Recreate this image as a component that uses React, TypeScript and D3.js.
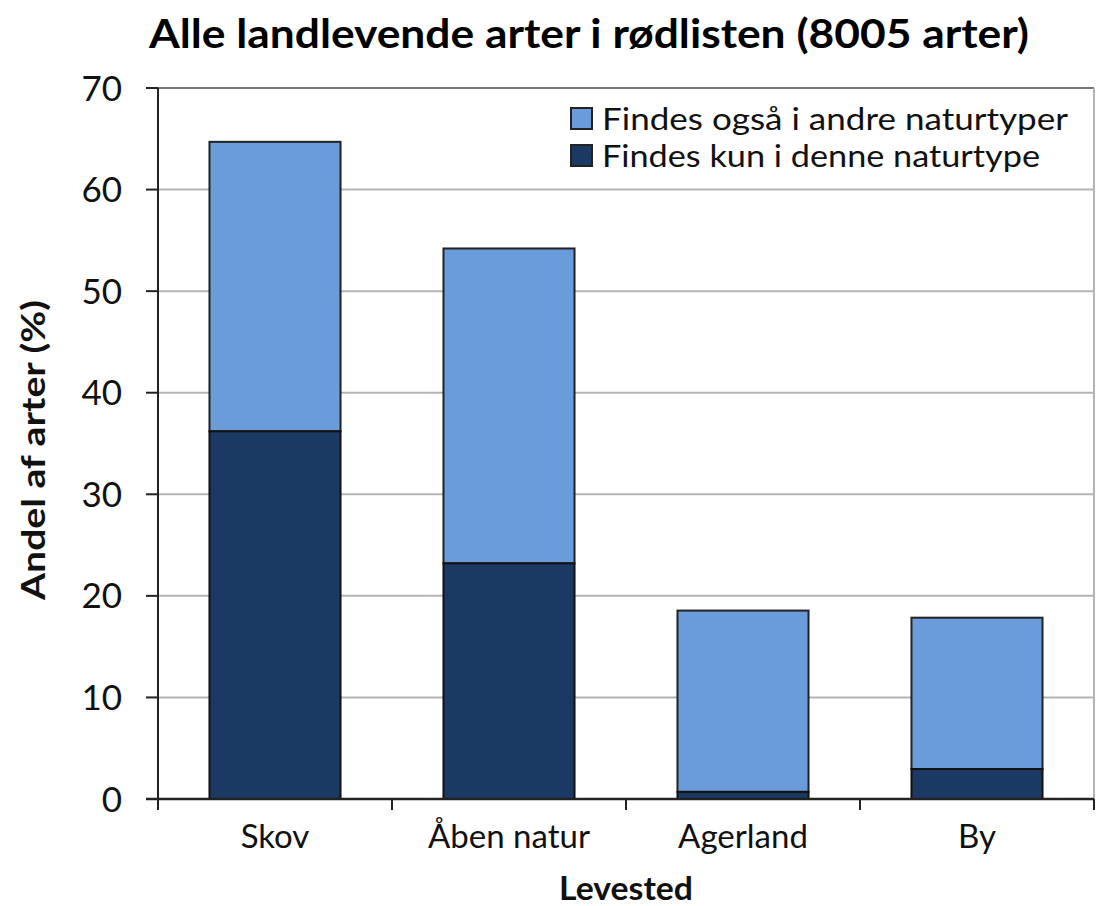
import React, { useEffect, useRef } from "react";
import * as d3 from "d3";

const categories = ["Skov", "Åben natur", "Agerland", "By"];
const onlyHere = [36.2, 23.2, 0.7, 2.95];
const alsoOther = [28.5, 31.0, 17.85, 14.9];
const yTicks = [0, 10, 20, 30, 40, 50, 60, 70];
const seriesNames = ["Findes også i andre naturtyper", "Findes kun i denne naturtype"];
const legendWidths = [466, 438];
const colors = { light: "#6a9bdb", dark: "#1b3a63" };

const W = 1096;
const H = 906;
const m = { left: 158, right: 2, top: 88, bottom: 107 };

export default function App() {
  const ref = useRef<SVGSVGElement>(null);

  useEffect(() => {
    const svg = d3.select(ref.current);
    svg.selectAll("*").remove();
    const font = "Lato, 'Open Sans', sans-serif";

    const x = d3
      .scaleBand()
      .domain(categories)
      .range([m.left, W - m.right])
      .paddingInner(0.44)
      .paddingOuter(0.22);
    const y = d3.scaleLinear().domain([0, 70]).range([H - m.bottom, m.top]);

    // grid
    svg
      .append("g")
      .selectAll("line")
      .data(yTicks.filter((t) => t > 0))
      .enter()
      .append("line")
      .attr("x1", m.left)
      .attr("x2", W - m.right)
      .attr("y1", (d) => y(d))
      .attr("y2", (d) => y(d))
      .attr("stroke", (d) => (d === 70 ? "#777" : "#b4b4b4"))
      .attr("stroke-width", 2);

    svg
      .append("line")
      .attr("x1", W - m.right)
      .attr("x2", W - m.right)
      .attr("y1", y(70))
      .attr("y2", y(0))
      .attr("stroke", "#b4b4b4")
      .attr("stroke-width", 2);

    // bars
    const g = svg.append("g");
    categories.forEach((c, i) => {
      const bx = x(c)!;
      g.append("rect")
        .attr("x", bx)
        .attr("width", x.bandwidth())
        .attr("y", y(onlyHere[i] + alsoOther[i]))
        .attr("height", y(onlyHere[i]) - y(onlyHere[i] + alsoOther[i]))
        .attr("fill", colors.light)
        .attr("stroke", "#222")
        .attr("stroke-width", 2);
      g.append("rect")
        .attr("x", bx)
        .attr("width", x.bandwidth())
        .attr("y", y(onlyHere[i]))
        .attr("height", y(0) - y(onlyHere[i]))
        .attr("fill", colors.dark)
        .attr("stroke", "#111")
        .attr("stroke-width", 2);
    });

    // y axis
    const yAxis = svg.append("g");
    yAxis
      .append("line")
      .attr("x1", m.left)
      .attr("x2", m.left)
      .attr("y1", y(70))
      .attr("y2", y(0) + 10)
      .attr("stroke", "#222")
      .attr("stroke-width", 2);
    yTicks.forEach((t) => {
      yAxis
        .append("line")
        .attr("x1", m.left - 12)
        .attr("x2", m.left)
        .attr("y1", y(t))
        .attr("y2", y(t))
        .attr("stroke", "#222")
        .attr("stroke-width", 2);
      yAxis
        .append("text")
        .attr("x", 122)
        .attr("y", y(t))
        .attr("dy", "0.36em")
        .attr("text-anchor", "end")
        .attr("font-family", font)
        .attr("font-size", 35)
        .attr("fill", "#111")
        .text(t);
    });

    // x axis
    const xAxis = svg.append("g");
    xAxis
      .append("line")
      .attr("x1", m.left - 12)
      .attr("x2", W - m.right)
      .attr("y1", y(0))
      .attr("y2", y(0))
      .attr("stroke", "#222")
      .attr("stroke-width", 2.5);
    const step = x.step();
    const edges = categories.map((c) => x(c)! - x.paddingInner() * step / 2).concat([W - m.right]);
    edges.forEach((e) => {
      xAxis
        .append("line")
        .attr("x1", e)
        .attr("x2", e)
        .attr("y1", y(0))
        .attr("y2", y(0) + 11)
        .attr("stroke", "#222")
        .attr("stroke-width", 2);
    });
    categories.forEach((c) => {
      xAxis
        .append("text")
        .attr("x", x(c)! + x.bandwidth() / 2)
        .attr("y", 848)
        .attr("text-anchor", "middle")
        .attr("font-family", font)
        .attr("font-size", 33)
        .attr("fill", "#111")
        .text(c);
    });

    // titles
    svg
      .append("text")
      .attr("x", 589)
      .attr("y", 48)
      .attr("text-anchor", "middle")
      .attr("font-family", font)
      .attr("font-weight", "bold")
      .attr("font-size", 41)
      .attr("textLength", 880)
      .attr("lengthAdjust", "spacingAndGlyphs")
      .attr("fill", "#000")
      .text("Alle landlevende arter i rødlisten (8005 arter)");

    svg
      .append("text")
      .attr("x", (m.left + W - m.right) / 2)
      .attr("y", 900)
      .attr("text-anchor", "middle")
      .attr("font-family", font)
      .attr("font-weight", "bold")
      .attr("font-size", 32)
      .attr("textLength", 134)
      .attr("lengthAdjust", "spacingAndGlyphs")
      .attr("fill", "#111")
      .text("Levested");

    svg
      .append("text")
      .attr("transform", `translate(45,450) rotate(-90)`)
      .attr("text-anchor", "middle")
      .attr("font-family", font)
      .attr("font-weight", "bold")
      .attr("font-size", 32)
      .attr("textLength", 300)
      .attr("lengthAdjust", "spacingAndGlyphs")
      .attr("fill", "#111")
      .text("Andel af arter (%)");

    // legend
    const leg = svg.append("g");
    [colors.light, colors.dark].forEach((col, i) => {
      const ly = 108 + i * 37;
      leg
        .append("rect")
        .attr("x", 571)
        .attr("y", ly)
        .attr("width", 21)
        .attr("height", 21)
        .attr("fill", col)
        .attr("stroke", "#222")
        .attr("stroke-width", 2);
      leg
        .append("text")
        .attr("x", 602)
        .attr("y", ly + 10.5)
        .attr("dy", "0.36em")
        .attr("font-family", font)
        .attr("font-size", 31)
        .attr("textLength", legendWidths[i])
        .attr("lengthAdjust", "spacingAndGlyphs")
        .attr("fill", "#111")
        .text(seriesNames[i]);
    });
  }, []);

  return (
    <svg
      ref={ref}
      width={W}
      height={H}
      style={{ position: "absolute", left: 0, top: 0, background: "#fff" }}
    />
  );
}
